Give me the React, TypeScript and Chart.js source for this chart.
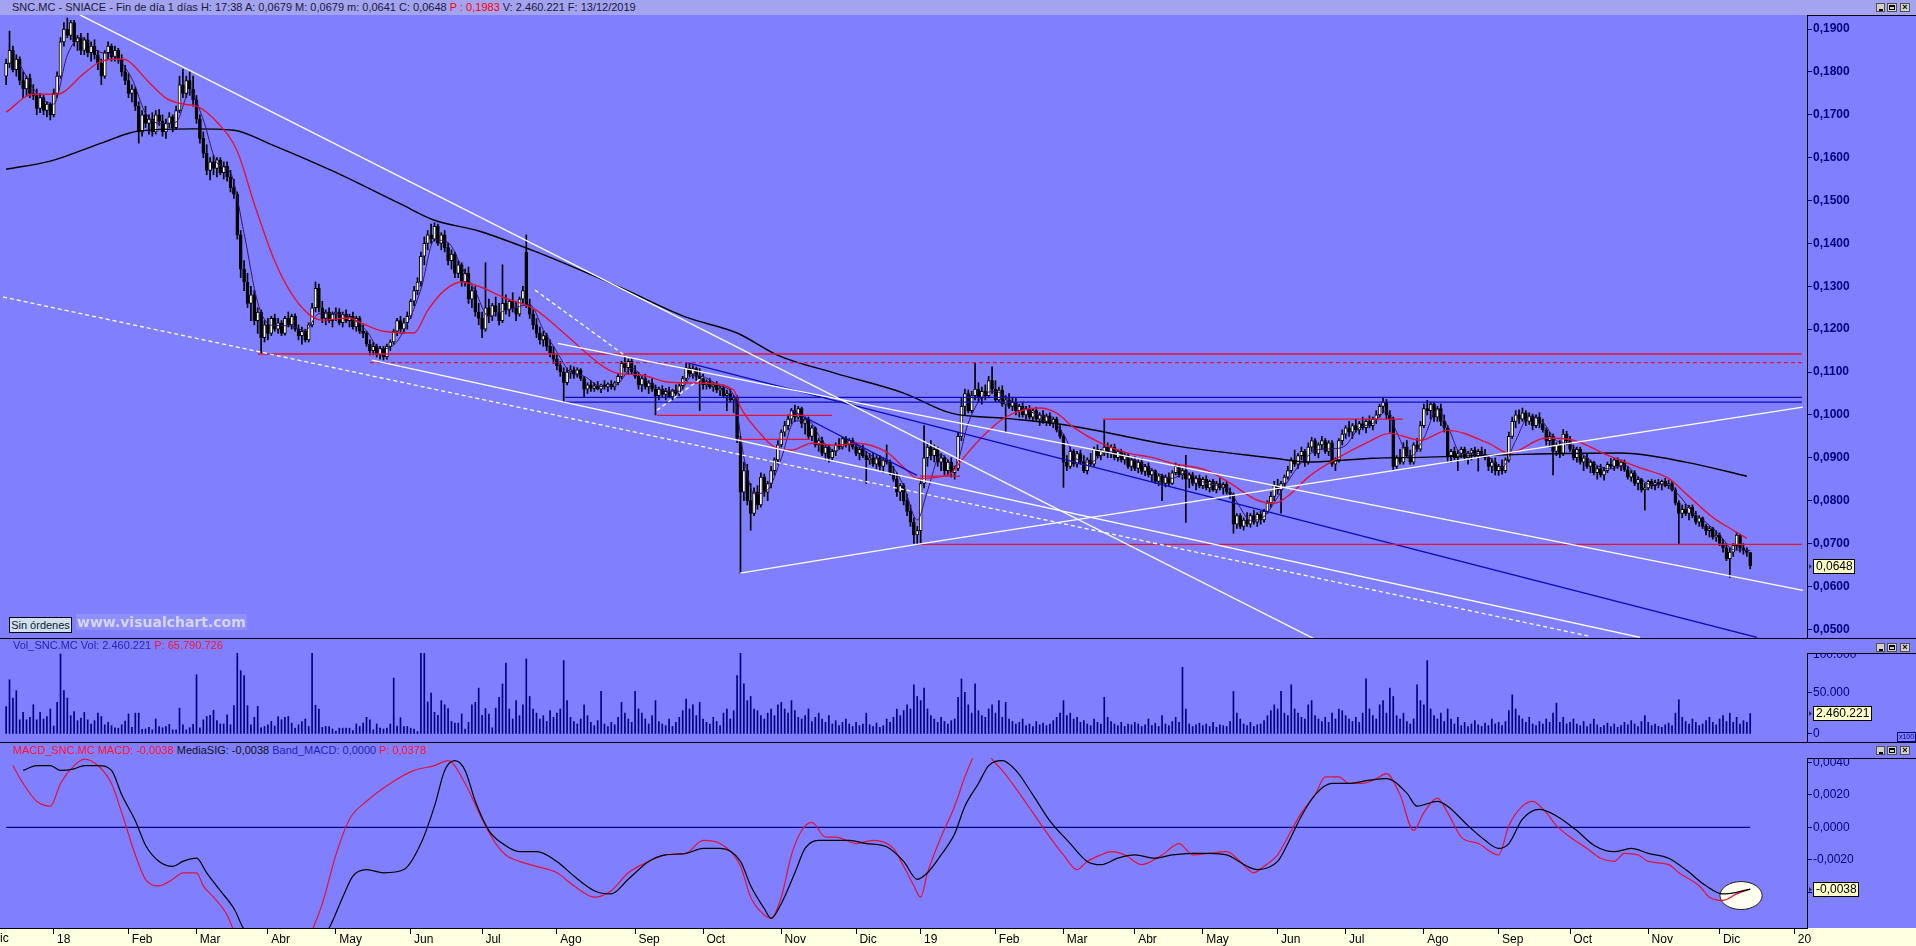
import React, { useEffect, useRef } from 'react';
import { Chart, registerables } from 'chart.js';

Chart.register(...registerables);

// ---------------- DATA ----------------
// Daily candles [open, high, low, close] in units of 0.0001 EUR
const dec17 = [[1790,1830,1770,1820],[1820,1895,1810,1850],[1850,1860,1800,1805],[1805,1840,1790,1830],[1830,1835,1770,1780],[1780,1800,1740,1760],[1760,1790,1745,1785],[1785,1795,1740,1750],[1750,1770,1735,1745],[1745,1760,1700,1715],[1715,1750,1705,1740],[1740,1745,1700,1710],[1710,1730,1695,1725],[1725,1728,1688,1700]];
const jan18 = [[1700,1760,1695,1750],[1750,1800,1740,1790],[1790,1880,1785,1870],[1870,1915,1860,1900],[1900,1926,1880,1885],[1885,1920,1875,1915],[1915,1920,1860,1870],[1870,1885,1850,1880],[1880,1890,1840,1850],[1850,1880,1840,1875],[1875,1890,1835,1845],[1845,1870,1825,1860],[1860,1875,1830,1840],[1840,1850,1805,1820],[1820,1830,1770,1790],[1790,1850,1785,1845],[1845,1870,1830,1860],[1860,1865,1825,1835],[1835,1860,1825,1850],[1850,1855,1820,1830],[1830,1840,1790,1800],[1800,1815,1770,1780]];
const feb18 = [[1780,1795,1740,1750],[1750,1770,1730,1760],[1760,1765,1710,1720],[1720,1730,1634,1660],[1660,1710,1650,1700],[1700,1720,1670,1680],[1680,1700,1655,1690],[1690,1705,1650,1660],[1660,1710,1655,1700],[1700,1712,1675,1685],[1685,1700,1650,1660],[1660,1690,1645,1680],[1680,1705,1670,1695],[1695,1700,1660,1670],[1670,1720,1665,1710],[1710,1790,1705,1770],[1770,1806,1740,1750],[1750,1790,1740,1780],[1780,1800,1745,1760],[1760,1790,1720,1735]];
const mar18 = [[1735,1745,1680,1690],[1690,1700,1634,1645],[1645,1660,1600,1610],[1610,1630,1560,1570],[1570,1600,1548,1590],[1590,1605,1560,1575],[1575,1600,1555,1595],[1595,1600,1560,1565],[1565,1590,1550,1580],[1580,1590,1545,1555],[1555,1570,1520,1530],[1530,1550,1505,1515],[1515,1520,1410,1420],[1420,1430,1320,1340],[1340,1360,1290,1310],[1310,1330,1250,1260],[1260,1300,1220,1280],[1280,1290,1210,1220],[1220,1250,1190,1240],[1240,1245,1144,1180],[1180,1220,1170,1210]];
const apr18 = [[1210,1225,1175,1190],[1190,1230,1185,1225],[1225,1235,1195,1200],[1200,1225,1190,1215],[1215,1220,1185,1190],[1190,1230,1186,1225],[1225,1240,1205,1210],[1210,1235,1200,1230],[1230,1236,1195,1200],[1200,1210,1175,1185],[1185,1205,1165,1195],[1195,1200,1170,1175],[1175,1215,1170,1210],[1210,1260,1205,1250],[1250,1310,1240,1295],[1295,1305,1240,1250],[1250,1265,1215,1225],[1225,1245,1210,1240],[1240,1250,1215,1220],[1220,1240,1205,1235]];
const may18 = [[1235,1250,1220,1240],[1240,1248,1210,1215],[1215,1240,1205,1235],[1235,1245,1215,1220],[1220,1235,1205,1230],[1230,1240,1200,1205],[1205,1230,1195,1225],[1225,1230,1190,1195],[1195,1210,1180,1190],[1190,1195,1160,1165],[1165,1175,1140,1150],[1150,1170,1140,1160],[1160,1165,1135,1140],[1140,1160,1130,1155],[1155,1160,1128,1135],[1135,1165,1130,1160],[1160,1175,1150,1170],[1170,1200,1165,1195],[1195,1225,1185,1220],[1220,1230,1190,1200],[1200,1225,1190,1215],[1215,1240,1200,1230]];
const jun18 = [[1230,1270,1225,1265],[1265,1300,1255,1290],[1290,1320,1280,1310],[1310,1380,1300,1370],[1370,1415,1350,1400],[1400,1430,1385,1420],[1420,1445,1400,1410],[1410,1448,1405,1440],[1440,1445,1395,1400],[1400,1425,1385,1420],[1420,1430,1380,1390],[1390,1400,1350,1360],[1360,1385,1340,1375],[1375,1380,1320,1330],[1330,1360,1320,1350],[1350,1355,1300,1310],[1310,1340,1300,1330],[1330,1345,1260,1270],[1270,1300,1250,1290],[1290,1300,1230,1240],[1240,1260,1210,1225]];
const jul18 = [[1225,1240,1180,1200],[1200,1355,1195,1250],[1250,1270,1215,1230],[1230,1260,1220,1255],[1255,1275,1230,1240],[1240,1260,1210,1220],[1220,1350,1215,1260],[1260,1280,1235,1245],[1245,1270,1230,1265],[1265,1285,1240,1250],[1250,1265,1220,1235],[1235,1275,1230,1270],[1270,1300,1260,1290],[1380,1420,1250,1256],[1256,1270,1225,1235],[1235,1245,1200,1210],[1210,1225,1180,1190],[1190,1205,1165,1175],[1175,1195,1160,1185],[1185,1190,1150,1160],[1160,1175,1135,1145],[1145,1160,1120,1130]];
const aug18 = [[1130,1140,1105,1115],[1115,1125,1090,1100],[1100,1110,1030,1075],[1075,1110,1070,1100],[1100,1115,1085,1105],[1105,1112,1085,1095],[1095,1110,1088,1105],[1105,1108,1080,1085],[1085,1090,1041,1060],[1060,1075,1050,1070],[1070,1080,1055,1062],[1062,1075,1055,1068],[1068,1078,1058,1060],[1060,1072,1052,1070],[1070,1080,1060,1065],[1065,1075,1055,1072],[1072,1080,1060,1065],[1065,1078,1058,1075],[1075,1095,1070,1090],[1090,1125,1085,1120],[1120,1135,1100,1110],[1110,1130,1095,1125],[1125,1132,1095,1100]];
const sep18 = [[1100,1115,1085,1090],[1090,1100,1060,1070],[1070,1090,1055,1085],[1085,1095,1060,1065],[1065,1080,1050,1075],[1075,1085,1055,1060],[1060,1070,1000,1045],[1045,1065,1035,1060],[1060,1068,1040,1048],[1048,1062,1035,1055],[1055,1065,1040,1042],[1042,1060,1035,1058],[1058,1070,1045,1050],[1050,1072,1045,1068],[1068,1090,1060,1085],[1085,1120,1080,1110],[1110,1118,1090,1095],[1095,1115,1085,1108],[1108,1112,1080,1090],[1090,1108,1010,1085]];
const oct18 = [[1085,1095,1060,1070],[1070,1082,1060,1078],[1078,1085,1062,1065],[1065,1075,1055,1070],[1070,1078,1052,1058],[1058,1068,1045,1062],[1062,1070,1040,1045],[1045,1058,1010,1050],[1050,1060,1030,1035],[1035,1045,1005,1040],[1040,1045,935,945],[940,950,630,820],[820,890,800,870],[870,885,790,800],[800,840,731,770],[770,830,765,820],[820,835,780,790],[790,865,785,855],[855,862,810,820],[820,845,800,840],[840,880,830,870],[870,900,860,895],[895,940,885,930]];
const nov18 = [[930,965,925,960],[960,985,950,975],[975,1000,965,990],[990,1015,980,1010],[1010,1023,985,995],[995,1020,990,1015],[1015,1018,970,980],[980,995,955,990],[990,995,945,950],[950,975,940,970],[970,972,925,930],[930,945,915,940],[940,948,905,910],[910,930,895,925],[925,930,890,900],[900,920,894,915],[915,935,905,930],[930,945,920,925],[925,948,920,945],[945,950,925,930],[930,945,915,940],[940,946,920,925]];
const dec18 = [[925,935,905,910],[910,925,895,920],[920,930,900,905],[905,915,840,895],[895,910,885,900],[900,912,880,885],[885,905,875,900],[900,905,870,880],[880,900,865,895],[895,930,885,890],[890,895,860,865],[865,880,845,850],[850,865,810,820],[820,840,800,835],[835,840,790,800],[800,815,765,775],[775,790,740,750],[750,760,700,720],[720,740,697,730]];
const jan19 = [[730,850,700,840],[840,975,830,900],[900,935,880,925],[925,940,895,905],[905,930,890,920],[920,925,880,890],[890,910,870,900],[900,905,860,870],[870,895,860,890],[890,900,855,865],[865,880,850,875],[875,960,870,950],[950,1040,940,1020],[1020,1060,1000,1050],[1050,1058,1005,1010],[1010,1055,1005,1045],[1045,1121,1035,1060],[1060,1075,1030,1040],[1040,1065,1025,1055],[1055,1070,1035,1045],[1045,1090,1040,1080],[1080,1112,1050,1060]];
const feb19 = [[1060,1080,1030,1035],[1035,1065,1030,1058],[1058,1068,1020,1025],[1025,1045,960,1035],[1035,1050,1015,1020],[1020,1040,1010,1030],[1030,1040,1000,1010],[1010,1025,995,1020],[1020,1030,995,1000],[1000,1020,990,1015],[1015,1022,990,995],[995,1015,985,1010],[1010,1018,985,990],[990,1005,975,1000],[1000,1010,980,985],[985,1002,975,998],[998,1005,975,980],[980,995,970,990],[990,995,960,965],[965,975,945,950]];
const mar19 = [[950,955,831,890],[890,905,870,880],[880,925,875,915],[915,920,880,885],[885,915,878,910],[910,918,885,890],[890,905,865,870],[870,900,862,895],[895,910,880,885],[885,925,880,920],[920,930,900,905],[905,920,895,915],[915,988,905,925],[925,935,900,910],[910,930,900,925],[925,932,895,900],[900,918,892,915],[915,920,890,895],[895,912,885,905],[905,910,875,880],[880,900,870,895]];
const apr19 = [[895,902,870,875],[875,895,865,890],[890,898,862,868],[868,885,858,880],[880,888,855,860],[860,875,845,870],[870,872,840,845],[845,862,835,858],[858,862,800,840],[840,860,832,855],[855,865,835,840],[840,870,838,865],[865,888,860,880],[880,885,855,860],[860,875,850,870],[870,906,749,850],[850,865,830,860],[860,866,835,840],[840,858,825,852],[852,860,830,835]];
const may19 = [[835,855,828,850],[850,858,825,830],[830,848,820,845],[845,850,822,825],[825,845,818,840],[840,852,825,830],[830,842,815,838],[838,845,815,820],[820,830,805,815],[815,818,724,745],[745,770,735,765],[765,770,735,740],[740,760,731,755],[755,772,740,745],[745,770,738,765],[765,778,745,750],[750,772,740,768],[768,775,745,755],[755,780,750,775],[775,800,770,795],[795,820,785,810],[810,845,800,835]];
const jun19 = [[835,850,815,825],[825,845,771,840],[840,860,830,855],[855,880,850,870],[870,900,865,895],[895,918,880,885],[885,910,875,905],[905,925,895,915],[915,920,880,890],[890,935,885,925],[925,948,915,940],[940,945,905,910],[910,935,900,930],[930,950,920,940],[940,945,910,915],[915,940,905,935],[935,940,880,885],[885,900,870,895],[895,945,890,940],[940,965,930,955]];
const jul19 = [[955,975,945,970],[970,985,950,960],[960,980,945,975],[975,990,960,965],[965,985,955,980],[980,995,965,970],[970,990,958,985],[985,998,970,975],[975,995,965,990],[990,1010,980,1000],[1000,1025,995,1020],[1020,1039,1005,1030],[1030,1036,990,1000],[1000,1010,960,990],[990,995,870,880],[880,905,875,900],[900,920,885,890],[890,935,885,925],[925,940,900,905],[905,918,885,890],[890,935,885,930],[930,945,915,920],[920,985,915,975]];
const aug19 = [[975,1025,970,1015],[1015,1034,1000,1010],[1010,1030,990,1025],[1025,1030,985,995],[995,1020,985,1015],[1015,1025,975,985],[985,1000,960,970],[970,975,890,905],[905,920,890,915],[915,925,895,900],[900,918,870,910],[910,925,900,920],[920,925,895,900],[900,915,885,910],[910,922,895,918],[918,925,900,905],[905,920,869,915],[915,925,900,908],[908,920,895,900],[900,905,870,880],[880,898,865,890],[890,900,860,870]];
const sep19 = [[870,885,859,880],[880,895,862,870],[870,900,865,895],[895,960,890,950],[950,995,945,985],[985,1010,970,1000],[1000,1012,980,990],[990,1016,985,1005],[1005,1010,975,985],[985,1005,978,998],[998,1002,965,975],[975,1000,970,995],[995,1005,970,980],[980,990,960,965],[965,970,930,940],[940,960,925,950],[950,955,860,915],[915,935,905,930],[930,940,900,910],[910,966,905,955],[955,962,930,940]];
const oct19 = [[940,950,915,920],[920,930,895,900],[900,925,890,920],[920,925,885,890],[890,905,870,900],[900,910,875,880],[880,895,865,890],[890,892,860,865],[865,880,850,875],[875,885,855,860],[860,878,848,870],[870,890,865,885],[885,898,875,880],[880,900,870,895],[895,900,875,880],[880,895,870,890],[890,895,868,872],[872,880,850,855],[855,870,845,865],[865,870,835,840],[840,855,825,850],[850,852,820,825],[825,840,778,830]];
const nov19 = [[830,848,825,845],[845,850,828,835],[835,848,825,842],[842,850,830,838],[838,848,825,845],[845,852,832,835],[835,848,828,840],[840,845,822,825],[825,830,790,795],[795,800,700,770],[770,790,760,780],[780,792,765,770],[770,789,755,785],[785,790,760,765],[765,775,745,750],[750,765,740,760],[760,762,735,740],[740,745,720,730],[730,740,715,735],[735,738,710,715],[715,730,705,720]];
const dec19 = [[720,725,695,700],[700,710,680,690],[690,700,660,665],[665,690,621,680],[680,700,670,695],[695,726,685,720],[720,722,680,690],[690,700,675,685],[685,690,670,679],[679,679,641,648]];

// Daily volume, in thousands of the axis unit (axis is "x100" shares)
const volDec17 = [33,65,43,52,17,26,17,20,35,17,26,18,21,30];
const volJan18 = [9.5,38,96,52,43,22,27,16,19,26,17,12,16,25,21,11,14,10,7.5,7,11,15.5];
const volFeb18 = [24,8,25,25,5.5,6,8,5,18,9,7.5,9,11.5,5,5,31,11,5,7.5,11.5];
const volMar18 = [71,7.5,17,21,22.5,28.5,16,12,12,23,11,34,97,76,70,34,11,20,33,7.5,9];
const volApr18 = [11,15,9.5,21,17,20,21,13,7,11,15,18,9,97,34.5,30,8,9,9,6];
const volMay18 = [3.5,7,7,7,7,4,12,9,13,20,17,5,12,7,6,7,12,67,9.5,19.5,9,9];
const volJun18 = [7,6,3,97,97,38.5,49,26,22.5,40,35,30.5,15,13,13,24,6,14,35,38,55];
const volJul18 = [22.5,30.5,24,7.5,31,44,60,85,30,18,40,22,35,90,45,30,25,18,22,15,28,20];
const volAug18 = [25,30,88,40,20,15,12,18,35,22,14,10,16,51,12,9,14,11,20,38,25,18,14];
const volSep18 = [51,30,25,18,12,22,40,15,12,10,18,9,14,20,28,42,30,35,22,38];
const volOct18 = [18,14,12,20,15,10,25,30,18,28,70,100,60,40,45,30,28,22,18,25,30,22,35];
const volNov18 = [38,30,25,40,28,20,18,22,30,15,20,25,18,14,22,12,16,10,14,18,12,9];
const volDec18 = [14,10,12,25,11,9,13,8,10,18,14,20,30,22,28,35,30,59,45];
const volJan19 = [40,55,30,22,18,14,20,15,12,16,18,44,66,50,35,25,60,28,22,20,30,35];
const volFeb19 = [25,40,20,38,18,15,12,14,18,10,12,9,15,11,13,10,12,16,20,25];
const volMar19 = [40,22,25,18,20,14,16,12,10,18,14,12,44,20,15,12,10,14,9,12,11];
const volApr19 = [14,12,9,11,18,10,13,9,22,12,10,15,20,14,80,30,12,9,11,13];
const volMay19 = [10,12,9,14,8,11,10,9,15,51,25,18,12,10,14,9,11,12,16,22,28,35];
const volJun19 = [30,51,25,22,59,30,25,20,18,35,40,22,18,15,20,14,25,18,30,28];
const volJul19 = [22,18,15,20,14,25,66,30,22,18,35,40,25,55,45,22,18,25,15,12,18,59,40];
const volAug19 = [35,88,30,22,18,25,15,30,18,12,20,10,14,9,12,16,11,9,13,10,18,12];
const volSep19 = [14,10,15,28,47,30,22,18,14,20,12,10,15,12,18,14,25,37,14,20,12];
const volOct19 = [14,18,12,10,15,9,12,18,11,8,10,13,9,12,8,10,14,11,16,12,9,15,22];
const volNov19 = [14,10,12,9,8,11,13,10,25,41,20,15,12,18,14,10,12,16,20,14,11];
const volDec19 = [18,22,15,25,14,20,12,16,14,24.6];

// Moving averages: [bar index, price x 0.0001]
const ma20 = [[0,1706],[8,1748],[15,1748],[23,1797],[28,1825],[34,1830],[36,1825],[42,1776],[47,1739],[52,1725],[56,1720],[62,1683],[68,1615],[73,1492],[79,1359],[84,1282],[89,1235],[93,1221],[101,1226],[104,1216],[111,1195],[120,1191],[124,1244],[129,1291],[134,1310],[139,1300],[146,1275],[156,1244],[164,1191],[176,1111],[180,1097],[187,1093],[195,1076],[205,1074],[214,1058],[216,1018],[221,964],[226,925],[231,918],[237,934],[244,929],[250,934],[259,913],[264,878],[268,852],[274,855],[278,864],[281,894],[287,948],[294,995],[304,1016],[309,1004],[314,971],[322,934],[330,911],[337,901],[343,887],[353,871],[360,841],[368,801],[373,794],[378,817],[383,855],[392,901],[400,934],[407,957],[416,941],[424,964],[436,934],[442,911],[453,946],[461,941],[471,906],[480,878],[489,852],[494,817],[502,761],[508,731],[512,712]];
const ma200 = [[0,1573],[13,1592],[28,1634],[39,1662],[55,1667],[67,1664],[77,1634],[96,1569],[116,1492],[126,1454],[139,1429],[156,1380],[181,1296],[200,1228],[215,1191],[227,1139],[244,1097],[264,1051],[278,1004],[294,992],[312,976],[343,929],[373,899],[383,890],[402,899],[416,901],[446,908],[475,911],[494,890],[512,857]];
const ma5 = [[4,1817],[9,1751],[14,1725],[18,1839],[22,1880],[27,1848],[32,1836],[37,1784],[41,1704],[46,1679],[50,1683],[54,1754],[58,1688],[62,1588],[66,1565],[70,1423],[74,1262],[78,1209],[83,1208],[88,1197],[92,1236],[96,1236],[101,1228],[106,1196],[110,1154],[114,1163],[118,1212],[122,1293],[126,1408],[130,1402],[134,1345],[138,1288],[142,1229],[146,1241],[150,1251],[154,1257],[158,1199],[162,1147],[166,1099],[170,1090],[175,1066],[180,1073],[184,1109],[188,1082],[193,1058],[198,1055],[202,1093],[206,1086],[210,1067],[214,1046],[217,902],[220,816],[224,825],[228,899],[232,986],[236,986],[240,940],[244,916],[248,934],[252,920],[256,897],[260,886],[264,834],[268,755],[271,823],[275,908],[279,880],[283,981],[287,1042],[291,1055],[295,1035],[299,1016],[303,1002],[307,991],[311,955],[315,896],[319,890],[323,910],[327,915],[331,898],[335,882],[339,863],[343,852],[347,865],[351,847],[355,837],[359,831],[362,797],[366,754],[370,763],[374,808],[378,857],[382,898],[386,919],[390,921],[394,929],[398,970],[402,980],[406,1008],[409,960],[413,902],[417,946],[421,1012],[424,974],[428,910],[432,911],[436,902],[440,878],[444,940],[448,996],[452,983],[456,940],[460,931],[464,906],[468,882],[472,874],[476,883],[480,856],[484,837],[488,839],[492,813],[496,774],[500,749],[504,720],[508,686],[513,684]];

// Drawn trend lines: [[bar, price], [bar, price]]
const whiteSolidLines = [[[21.7,1933],[384.7,478]],[[162.3,1167],[528.5,591]],[[107.6,1128],[480.6,481]],[[215.9,631],[267.9,698]],[[267.9,698],[528.5,1018]]];
const whiteDashedLines = [[[-0.9,1275],[465.6,484]],[[155.6,1291],[182.6,1135]],[[191.4,1011],[205,1088]]];
const redSolidLines = [[[74.1,1142],[528.2,1142]],[[191.4,999],[242.9,999]],[[215.9,943],[236.4,943]],[[268.8,857],[280.6,857]],[[267.9,698],[528.2,698]],[[322.6,990],[410.8,990]]];
const redDashedLines = [[[107,1122],[528.2,1122]]];
const blueLines = [[[164.4,1041],[528.2,1041]],[[164.4,1030],[528.2,1030]],[[200.3,1122],[515,481]],[[230.6,1012],[267.9,859]]];

// MACD panel: [bar index, value]
const macdLine = [[2,0.0038],[5,0.0027],[9,0.0016],[13,0.0013],[16,0.0027],[20,0.0038],[23,0.0042],[27,0.0038],[31,0.0027],[34,0.0009],[38,-0.0017],[41,-0.0032],[45,-0.0036],[49,-0.0032],[52,-0.0028],[56,-0.0028],[58,-0.0036],[61,-0.0043],[65,-0.0054],[68,-0.0069],[72,-0.0082],[78,-0.009],[84,-0.0086],[89,-0.0068],[93,-0.0047],[97,-0.0017],[101,0.0005],[106,0.0016],[113,0.0027],[120,0.0035],[126,0.0038],[130,0.0041],[135,0.0027],[140,0.0005],[144,-0.001],[147,-0.0017],[151,-0.0021],[156,-0.0024],[162,-0.0028],[167,-0.0036],[173,-0.0043],[178,-0.0039],[183,-0.0028],[189,-0.0021],[194,-0.0017],[200,-0.0016],[205,-0.0008],[210,-0.001],[216,-0.0024],[219,-0.0043],[223,-0.0054],[225,-0.0056],[228,-0.0043],[231,-0.0017],[234,-0.0002],[237,0.0003],[241,-0.0006],[244,-0.0006],[250,-0.001],[255,-0.0008],[261,-0.0013],[264,-0.0024],[267,-0.0036],[269,-0.0043],[271,-0.0028],[275,-0.0006],[279,0.0013],[282,0.0031],[285,0.0045],[288,0.0048],[290,0.0042],[293,0.0035],[297,0.0024],[302,0.0009],[307,-0.0006],[311,-0.0017],[315,-0.0026],[318,-0.0021],[322,-0.0017],[325,-0.0015],[329,-0.0017],[334,-0.0023],[340,-0.0017],[345,-0.001],[349,-0.0017],[354,-0.0016],[359,-0.0015],[363,-0.0021],[367,-0.0028],[370,-0.0024],[374,-0.0017],[377,-0.0006],[381,0.0009],[385,0.002],[388,0.0031],[392,0.0031],[395,0.0027],[399,0.0027],[403,0.003],[406,0.0033],[410,0.002],[414,-0.0002],[417,0.0009],[421,0.0018],[424,0.0009],[428,-0.0006],[433,-0.001],[439,-0.0017],[442,0.0001],[446,0.0013],[449,0.0016],[453,0.0009],[456,0.0001],[460,-0.0006],[465,-0.0013],[469,-0.0019],[473,-0.0021],[476,-0.0016],[480,-0.0017],[483,-0.0021],[489,-0.0023],[492,-0.0028],[498,-0.0036],[501,-0.0043],[505,-0.0045],[509,-0.0041],[513,-0.0038]];
const signalLine = [[5,0.0035],[9,0.0038],[13,0.0038],[16,0.0035],[20,0.0036],[23,0.0038],[27,0.0038],[31,0.0035],[34,0.002],[38,0.0004],[41,-0.0011],[45,-0.0021],[49,-0.0024],[52,-0.0021],[56,-0.0019],[59,-0.0028],[63,-0.0039],[67,-0.005],[70,-0.0063],[76,-0.0078],[84,-0.0083],[91,-0.0072],[95,-0.0062],[99,-0.0043],[102,-0.003],[106,-0.0026],[111,-0.0028],[117,-0.0026],[122,-0.001],[126,0.0013],[129,0.0035],[132,0.0041],[135,0.0035],[138,0.0016],[142,-0.0002],[146,-0.001],[151,-0.0015],[156,-0.0015],[162,-0.0021],[167,-0.003],[173,-0.0039],[178,-0.0041],[183,-0.0032],[189,-0.0021],[194,-0.0017],[200,-0.0016],[205,-0.0013],[210,-0.0013],[216,-0.0021],[219,-0.0036],[223,-0.005],[225,-0.0056],[228,-0.0047],[232,-0.0028],[235,-0.0013],[239,-0.0008],[243,-0.0008],[248,-0.0008],[253,-0.001],[259,-0.0012],[264,-0.0021],[268,-0.0032],[271,-0.0028],[275,-0.0017],[279,-0.0004],[282,0.0013],[286,0.0027],[289,0.0038],[293,0.0041],[297,0.0035],[302,0.002],[307,0.0004],[313,-0.001],[318,-0.0021],[322,-0.0023],[327,-0.0019],[332,-0.0017],[338,-0.0019],[343,-0.0017],[349,-0.0016],[354,-0.0016],[359,-0.0017],[365,-0.0024],[368,-0.0026],[374,-0.0021],[377,-0.001],[381,0.0007],[385,0.002],[390,0.0027],[395,0.0027],[401,0.0029],[406,0.003],[412,0.0021],[415,0.0013],[421,0.0016],[424,0.0013],[430,0.0001],[435,-0.0008],[439,-0.0013],[442,-0.001],[446,0.0005],[451,0.0011],[456,0.0007],[462,-0.0002],[467,-0.0011],[473,-0.0015],[478,-0.0013],[483,-0.0016],[489,-0.0019],[494,-0.0026],[500,-0.0036],[505,-0.0041],[509,-0.004],[513,-0.0038]];
const macdBand = [[0,0],[513,0]];
const macdHighlight = { center: 510.3, value: -0.0042, halfBars: 6.2, halfValue: 0.00086 };

// Axis ticks
const monthTickIndex = [14,36,56,77,97,119,140,162,185,205,228,250,269,291,311,332,352,374,394,417,439,460,483,504,526];
const monthTickLabels = ['18','Feb','Mar','Abr','May','Jun','Jul','Ago','Sep','Oct','Nov','Dic','19','Feb','Mar','Abr','May','Jun','Jul','Ago','Sep','Oct','Nov','Dic','20'];
const priceTicks = [500,600,700,800,900,1000,1100,1200,1300,1400,1500,1600,1700,1800,1900];
const volumeTicks = [0, 50];
const macdTicks = [0.004, 0.002, 0, -0.002, -0.004];

const lastVolumeShares = 2460221;
const lastMacd = -0.0038;

// ---------------- LAYOUT ----------------
const W = 1916;
const AXIS_W = 109;
const X_MIN = -1.8;
const X_MAX = 529.7;
const PRICE_MIN = 479.7, PRICE_MAX = 1932.66;
const VOL_MIN = -9.6, VOL_MAX = 97.1;
const MACD_MIN = -0.006197, MACD_MAX = 0.004265;

const FONT = '"Liberation Sans", Arial, Helvetica, sans-serif';
const BG = '#8080ff';
const RED = '#e0123a';
const BLUE = '#0c0cb8';
const NAVY = '#000080';

const ohlc = [dec17, jan18, feb18, mar18, apr18, may18, jun18, jul18, aug18, sep18, oct18, nov18, dec18, jan19, feb19, mar19, apr19, may19, jun19, jul19, aug19, sep19, oct19, nov19, dec19].flat();
const volumes = [volDec17, volJan18, volFeb18, volMar18, volApr18, volMay18, volJun18, volJul18, volAug18, volSep18, volOct18, volNov18, volDec18, volJan19, volFeb19, volMar19, volApr19, volMay19, volJun19, volJul19, volAug19, volSep19, volOct19, volNov19, volDec19].flat();

const fmtPrice = (v: number) => '0,' + String(Math.round(v)).padStart(4, '0');
const fmtMacd = (v: number) => (v < -1e-9 ? '-' : '') + Math.abs(v).toFixed(4).replace('.', ',');
const fmtVol = (v: number) => (v === 0 ? '0' : String(v) + '.000');
const fmtThousands = (n: number) => String(n).replace(/\B(?=(\d{3})+(?!\d))/g, '.');

const valueBoxPlugin: any = {
  id: 'valueBox',
  afterDraw(chart: any, _a: any, opts: any) {
    if (!opts || opts.value === undefined) return;
    const ctx = chart.ctx;
    const y = Math.round(chart.scales.y.getPixelForValue(opts.value));
    const x = Math.round(chart.chartArea.right) + 6;
    ctx.save();
    ctx.font = '12px ' + FONT;
    const w = Math.ceil(ctx.measureText(opts.text).width) + 5;
    const h = 15;
    ctx.fillStyle = '#ffffc8';
    ctx.fillRect(x, y - 7, w, h);
    ctx.strokeStyle = '#000';
    ctx.lineWidth = 1;
    ctx.strokeRect(x + 0.5, y - 7 + 0.5, w - 1, h - 1);
    ctx.fillStyle = '#000';
    ctx.textBaseline = 'middle';
    ctx.fillText(opts.text, x + 3, y + 1);
    ctx.fillStyle = '#303050';
    ctx.beginPath();
    ctx.moveTo(x - 1, y + 0.5);
    ctx.lineTo(x - 4, y - 2);
    ctx.lineTo(x - 4, y + 3);
    ctx.closePath();
    ctx.fill();
    ctx.restore();
  },
};

const ellipsePlugin: any = {
  id: 'highlight',
  beforeDatasetsDraw(chart: any, _a: any, opts: any) {
    if (!opts || opts.center === undefined) return;
    const xs = chart.scales.x, ys = chart.scales.y, ctx = chart.ctx;
    const cx = xs.getPixelForValue(opts.center);
    const cy = ys.getPixelForValue(opts.value);
    const rx = Math.abs(xs.getPixelForValue(opts.center + opts.halfBars) - cx);
    const ry = Math.abs(ys.getPixelForValue(opts.value + opts.halfValue) - cy);
    ctx.save();
    ctx.beginPath();
    ctx.ellipse(cx, cy, rx, ry, 0, 0, Math.PI * 2);
    ctx.fillStyle = '#fffff0';
    ctx.fill();
    ctx.strokeStyle = '#202020';
    ctx.lineWidth = 1;
    ctx.stroke();
    ctx.restore();
  },
};

function lineDs(pts: number[][], color: string, width: number, dash: number[], order: number, smooth = false): any {
  return {
    type: 'line',
    data: pts.map(([x, y]) => ({ x, y })),
    borderColor: color,
    borderWidth: width,
    borderDash: dash,
    pointRadius: 0,
    fill: false,
    tension: 0,
    cubicInterpolationMode: smooth ? 'monotone' : 'default',
    order,
  };
}

function hiddenX(): any {
  return {
    type: 'linear', min: X_MIN, max: X_MAX, offset: false, display: false, grid: { offset: false },
    afterFit: (s: any) => { s.paddingLeft = 0; s.paddingRight = 0; },
  };
}

function rightAxis(min: number, max: number, ticks: number[], fmt: (v: number) => string, bold: boolean): any {
  return {
    type: 'linear',
    position: 'right',
    min,
    max,
    afterBuildTicks: (s: any) => { s.ticks = ticks.map((v) => ({ value: v })); },
    afterFit: (s: any) => { s.width = AXIS_W; s.paddingTop = 0; s.paddingBottom = 0; },
    grid: { drawOnChartArea: false, drawTicks: true, tickLength: 5, color: NAVY },
    border: { display: true, color: '#000000', width: 1 },
    ticks: { color: NAVY, padding: 1, font: { family: FONT, size: 12, weight: bold ? 'bold' : 'normal' }, callback: (v: any) => fmt(Number(v)) },
  };
}

const baseOptions: any = {
  responsive: false,
  maintainAspectRatio: false,
  animation: false,
  events: [],
  layout: { padding: 0, autoPadding: false },
};

function WinButtons({ top }: { top: number }) {
  const base: any = { position: 'absolute', top, height: 9, background: '#d4d0c8', border: '1px solid #505050', boxSizing: 'border-box' };
  return (
    <>
      <div style={{ ...base, left: 1876, width: 9 }}>
        <div style={{ position: 'absolute', left: 2, top: 5, width: 4, height: 2, background: '#000' }} />
      </div>
      <div style={{ ...base, left: 1887, width: 10 }}>
        <div style={{ position: 'absolute', left: 1, top: 1, width: 6, height: 5, border: '1px solid #000', borderTopWidth: 2, boxSizing: 'border-box' }} />
      </div>
      <div style={{ ...base, left: 1900, width: 10, fontSize: 9, lineHeight: '7px', textAlign: 'center', fontWeight: 'bold', color: '#000', fontFamily: FONT }}>×</div>
    </>
  );
}

export default function App() {
  const priceRef = useRef<HTMLCanvasElement>(null);
  const volRef = useRef<HTMLCanvasElement>(null);
  const macdRef = useRef<HTMLCanvasElement>(null);

  useEffect(() => {
    const charts: any[] = [];
    const wickData = ohlc.map((c, i) => ({ x: i, y: [c[2], c[1]] }));
    const bodyData = ohlc.map((c, i) => ({ x: i, y: [Math.min(c[0], c[3]), Math.max(c[0], c[3])] }));
    const bodyColors = ohlc.map((c) => (c[3] > c[0] ? '#ffffff' : '#000000'));
    const lastClose = ohlc[ohlc.length - 1][3];

    if (priceRef.current) {
      charts.push(new Chart(priceRef.current, {
        type: 'bar',
        data: {
          datasets: [
            ...whiteSolidLines.map((l) => lineDs(l, '#ffffff', 1.3, [], 1)),
            ...whiteDashedLines.map((l) => lineDs(l, '#ffffff', 1.3, [4, 3], 1)),
            ...redSolidLines.map((l) => lineDs(l, RED, 1.3, [], 1)),
            ...redDashedLines.map((l) => lineDs(l, RED, 1.3, [4, 3], 1)),
            ...blueLines.map((l) => lineDs(l, BLUE, 1.3, [], 1)),
            lineDs(ma20, RED, 1.4, [], 3, true),
            lineDs(ma5, '#34106a', 1, [], 4, true),
            lineDs(ma200, '#000000', 1.4, [], 4, true),
            { type: 'bar', data: bodyData, backgroundColor: bodyColors, borderColor: '#000000', borderWidth: 1, borderSkipped: false, barThickness: 3, grouped: false, minBarLength: 1, order: 8 },
            { type: 'bar', data: wickData, backgroundColor: '#000000', borderWidth: 0, barThickness: 1, grouped: false, order: 9 },
          ] as any,
        },
        options: {
          ...baseOptions,
          scales: { x: hiddenX(), y: rightAxis(PRICE_MIN, PRICE_MAX, priceTicks, fmtPrice, true) },
          plugins: { legend: { display: false }, tooltip: { enabled: false }, valueBox: { value: lastClose, text: fmtPrice(lastClose) } },
        } as any,
        plugins: [valueBoxPlugin],
      }));
    }

    if (volRef.current) {
      charts.push(new Chart(volRef.current, {
        type: 'bar',
        data: {
          datasets: [{ data: volumes.map((v, i) => ({ x: i, y: v })), backgroundColor: NAVY, borderWidth: 0, barThickness: 1, grouped: false } as any],
        },
        options: {
          ...baseOptions,
          scales: { x: hiddenX(), y: rightAxis(VOL_MIN, VOL_MAX, volumeTicks, fmtVol, false) },
          plugins: { legend: { display: false }, tooltip: { enabled: false }, valueBox: { value: volumes[volumes.length - 1], text: fmtThousands(lastVolumeShares) } },
        } as any,
        plugins: [valueBoxPlugin],
      }));
    }

    if (macdRef.current) {
      charts.push(new Chart(macdRef.current, {
        type: 'line',
        data: {
          datasets: [
            lineDs(macdBand, NAVY, 1.2, [], 3),
            lineDs(macdLine, RED, 1.2, [], 2, true),
            lineDs(signalLine, '#000000', 1.2, [], 1, true),
          ],
        },
        options: {
          ...baseOptions,
          scales: {
            x: {
              type: 'linear', min: X_MIN, max: X_MAX, offset: false, position: 'bottom',
              afterBuildTicks: (s: any) => { s.ticks = monthTickIndex.map((v) => ({ value: v })); },
              afterFit: (s: any) => { s.height = 18; s.paddingLeft = 0; s.paddingRight = 0; },
              grid: { drawOnChartArea: false, drawTicks: true, tickLength: 6, color: '#000000', offset: false },
              border: { display: true, color: '#000000', width: 1 },
              ticks: { autoSkip: false, maxRotation: 0, minRotation: 0, align: 'start', padding: -2, color: '#000000', font: { family: FONT, size: 12 }, callback: (_v: any, idx: number) => ' ' + monthTickLabels[idx] },
            },
            y: rightAxis(MACD_MIN, MACD_MAX, macdTicks, fmtMacd, false),
          },
          plugins: { legend: { display: false }, tooltip: { enabled: false }, highlight: macdHighlight, valueBox: { value: lastMacd, text: fmtMacd(lastMacd) } },
        } as any,
        plugins: [ellipsePlugin, valueBoxPlugin],
      }));
    }

    return () => { charts.forEach((c) => c.destroy()); };
  }, []);

  const small: any = { position: 'absolute', fontSize: 11, lineHeight: '13px', whiteSpace: 'pre', fontFamily: FONT };

  return (
    <div style={{ position: 'fixed', left: 0, top: 0, width: W, height: 946, background: BG, overflow: 'hidden', fontFamily: FONT }}>
      {/* header strip */}
      <div style={{ position: 'absolute', left: 0, top: 0, width: W, height: 15, background: '#a3a3f0' }} />
      <div style={{ ...small, left: 12, top: 1, color: '#1a1a3a' }}>
        {'SNC.MC - SNIACE - Fin de día 1 días H: 17:38 A: 0,0679 M: 0,0679 m: 0,0641 C: 0,0648 '}
        <span style={{ color: '#ff0000' }}>{'P : 0,1983'}</span>
        {' V: 2.460.221 F: 13/12/2019'}
      </div>
      <WinButtons top={3} />

      {/* price panel */}
      <canvas ref={priceRef} width={W} height={623} style={{ position: 'absolute', left: 0, top: 15, display: 'block' }} />
      <div style={{ position: 'absolute', left: 1807, top: 15, width: AXIS_W, height: 1, background: '#000' }} />
      <div style={{ position: 'absolute', left: 9, top: 617, width: 63, height: 16, boxSizing: 'border-box', background: '#cfe0ec', border: '1px solid #000', fontSize: 11, lineHeight: '14px', textAlign: 'center', color: '#102030' }}>Sin órdenes</div>
      <div style={{ position: 'absolute', left: 76, top: 614, height: 16, padding: '0 1px', background: 'rgba(255,255,255,0.12)', color: '#d6d6ee', fontSize: 14, fontWeight: 'bold', lineHeight: '16px', fontFamily: '"DejaVu Sans", Verdana, sans-serif', whiteSpace: 'pre' }}>www.visualchart.com</div>

      {/* volume panel */}
      <div style={{ position: 'absolute', left: 0, top: 638, width: W, height: 1, background: '#000' }} />
      <div style={{ ...small, left: 13, top: 639 }}>
        <span style={{ color: '#2323b0' }}>{'Vol_SNC.MC Vol: 2.460.221 '}</span>
        <span style={{ color: '#ff1030' }}>{'P: 65.790.726'}</span>
      </div>
      <WinButtons top={643} />
      <div style={{ position: 'absolute', left: 1807, top: 653, width: AXIS_W, height: 1, background: '#000' }} />
      <canvas ref={volRef} width={W} height={89} style={{ position: 'absolute', left: 0, top: 653, display: 'block' }} />
      <div style={{ position: 'absolute', left: 1813, top: 654, height: 4, overflow: 'hidden', width: 60 }}>
        <div style={{ position: 'absolute', top: -6, left: 0, fontSize: 12, lineHeight: '12px', color: NAVY, fontFamily: FONT }}>100.000</div>
      </div>
      <div style={{ position: 'absolute', left: 1897, top: 732, width: 19, height: 10, boxSizing: 'border-box', border: '1px solid ' + NAVY, fontSize: 7, lineHeight: '8px', color: NAVY, textAlign: 'center' }}>x100</div>

      {/* MACD panel */}
      <div style={{ position: 'absolute', left: 0, top: 742, width: W, height: 1, background: '#000' }} />
      <div style={{ ...small, left: 13, top: 744 }}>
        <span style={{ color: '#ff1030' }}>{'MACD_SNC.MC MACD: -0,0038 '}</span>
        <span style={{ color: '#101010' }}>{'MediaSIG: -0,0038 '}</span>
        <span style={{ color: '#2323b0' }}>{'Band_MACD: 0,0000 '}</span>
        <span style={{ color: '#ff1030' }}>{'P: 0,0378'}</span>
      </div>
      <WinButtons top={746} />
      <div style={{ position: 'absolute', left: 1807, top: 758, width: AXIS_W, height: 1, background: '#000' }} />
      <div style={{ position: 'absolute', left: 0, top: 928, width: W, height: 18, background: '#ffffe1' }} />
      <canvas ref={macdRef} width={W} height={188} style={{ position: 'absolute', left: 0, top: 758, display: 'block' }} />
      <div style={{ position: 'absolute', left: 0, top: 932, fontSize: 12, lineHeight: '13px', color: '#000' }}>ic</div>
    </div>
  );
}
